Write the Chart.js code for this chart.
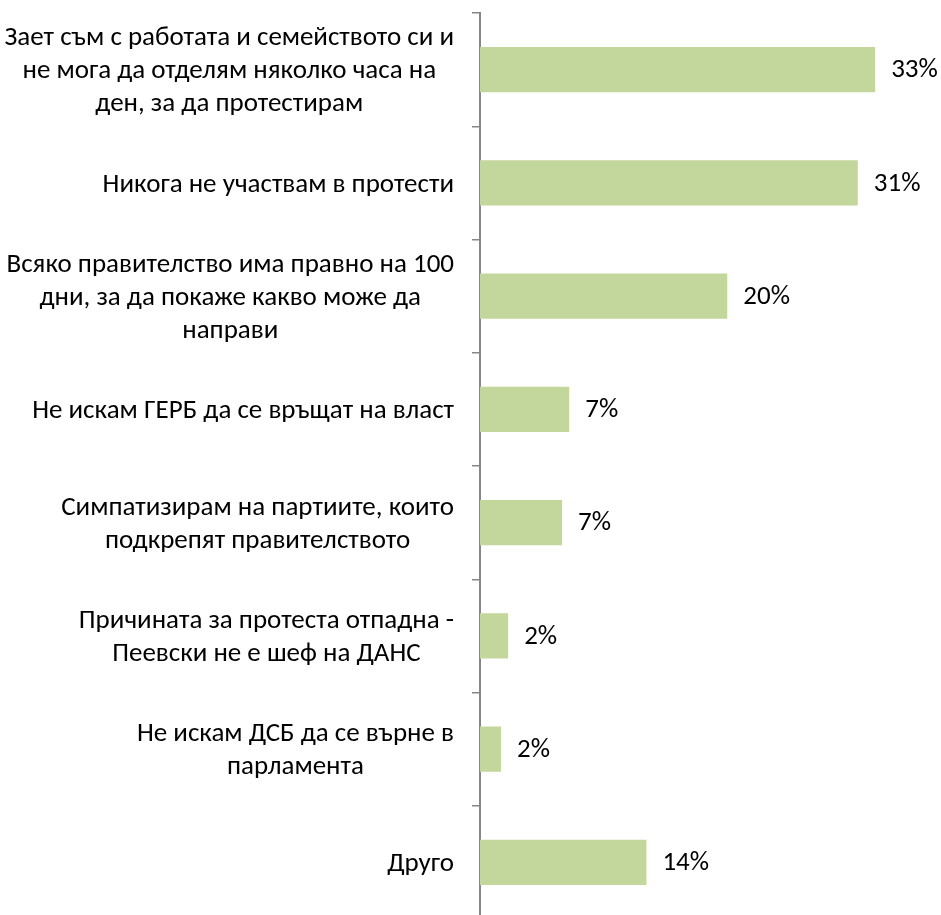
<!DOCTYPE html>
<html>
<head>
<meta charset="utf-8">
<script src="https://cdn.jsdelivr.net/npm/chart.js@4"></script>
<style>
  html, body { margin: 0; padding: 0; background: #fff; overflow: hidden; }
  #wrap { width: 941px; height: 922px; position: relative; }
</style>
</head>
<body>
<div id="wrap"><canvas id="chart"></canvas></div>
<script>
// categories (one array of lines per label)
const categories = [
  ['Зает съм с работата и семейството си и', 'не мога да отделям няколко часа на', 'ден, за да протестирам'],
  ['Никога не участвам в протести'],
  ['Всяко правителство има правно на 100', 'дни, за да покаже какво може да', 'направи'],
  ['Не искам ГЕРБ да се връщат на власт'],
  ['Симпатизирам на партиите, които', 'подкрепят правителството'],
  ['Причината за протеста отпадна -', 'Пеевски не е шеф на ДАНС'],
  ['Не искам ДСБ да се върне в', 'парламента'],
  ['Друго']
];
// bar lengths as drawn (percent)
const values = [33, 31.55, 20.65, 7.45, 6.85, 2.35, 1.75, 13.9];
// labels printed next to the bars
const valueLabels = ['33%', '31%', '20%', '7%', '7%', '2%', '2%', '14%'];

const FONT = '27px Carlito, Calibri, "Open Sans", sans-serif';

// category labels, centred line by line, block right-aligned to the axis
const categoryLabels = {
  id: 'categoryLabels',
  afterDraw(chart) {
    const ctx = chart.ctx;
    const y = chart.scales.y;
    const right = y.right - 26;
    ctx.save();
    ctx.font = FONT;
    ctx.fillStyle = '#000';
    ctx.textAlign = 'center';
    ctx.textBaseline = 'middle';
    categories.forEach((lines, i) => {
      const w = Math.max(...lines.map(l => ctx.measureText(l).width));
      const cx = right - w / 2;
      const cy = y.getPixelForValue(i) + 2;
      lines.forEach((l, j) => {
        ctx.fillText(l, cx, cy + (j - (lines.length - 1) / 2) * 33);
      });
    });
    ctx.restore();
  }
};

// percentage labels at the end of each bar
const valueText = {
  id: 'valueText',
  afterDatasetsDraw(chart) {
    const ctx = chart.ctx;
    ctx.save();
    ctx.font = FONT;
    ctx.fillStyle = '#000';
    ctx.textAlign = 'left';
    ctx.textBaseline = 'middle';
    chart.getDatasetMeta(0).data.forEach((bar, i) => {
      ctx.fillText(valueLabels[i], bar.x + 16, bar.y + 1);
    });
    ctx.restore();
  }
};

new Chart(document.getElementById('chart'), {
  type: 'bar',
  data: {
    labels: categories.map(l => l.join(' ')),
    datasets: [{
      data: values,
      backgroundColor: '#c3d69b',
      borderWidth: 0,
      barPercentage: 0.4,
      categoryPercentage: 1
    }]
  },
  options: {
    indexAxis: 'y',
    responsive: true,
    maintainAspectRatio: false,
    animation: false,
    layout: { padding: { left: 472, top: 13, bottom: 3, right: 0 } },
    plugins: { legend: { display: false }, tooltip: { enabled: false } },
    scales: {
      x: {
        display: false,
        min: 0,
        max: 38.5
      },
      y: {
        grid: {
          offset: true,
          drawOnChartArea: false,
          drawTicks: true,
          tickLength: 8,
          color: '#868686',
          lineWidth: 1.5
        },
        border: { color: '#868686', width: 2 },
        ticks: { display: false }
      }
    }
  },
  plugins: [categoryLabels, valueText]
});
</script>
</body>
</html>
